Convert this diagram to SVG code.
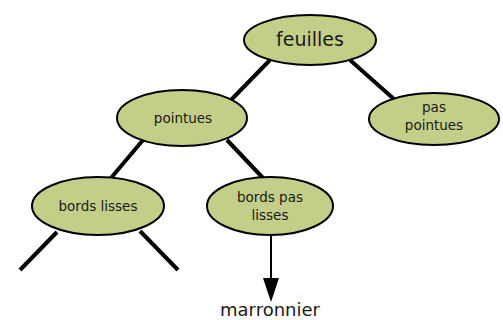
<svg xmlns="http://www.w3.org/2000/svg" width="503" height="320" viewBox="0 0 503 320">
<defs>
<style>
.node ellipse{fill:#c3cf88;stroke:#000;stroke-width:2}
.node text{font-family:Tahoma,"DejaVu Sans",sans-serif;font-size:13.5px;fill:#1a1a1a;text-anchor:middle}
.edge{stroke:#000;stroke-width:4;fill:none}
.arrow{stroke:#000;stroke-width:2;fill:none}
</style>
</defs>
<g id="connectors">
<line class="edge" x1="270" y1="60" x2="231" y2="100"/>
<line class="edge" x1="350" y1="60" x2="395" y2="100"/>
<line class="edge" x1="143" y1="140" x2="111" y2="178"/>
<line class="edge" x1="227" y1="140" x2="263" y2="178"/>
<line class="edge" x1="57" y1="232" x2="20" y2="270"/>
<line class="edge" x1="140" y1="231" x2="178" y2="270"/>
<line class="arrow" x1="271" y1="236" x2="271" y2="280"/>
<polygon points="263,278 279,278 271,302" fill="#000"/>
</g>
<g id="feuilles" class="node">
<ellipse cx="310" cy="40" rx="66" ry="25"/>
<text x="310" y="46" style="font-size:19px">feuilles</text>
</g>
<g id="pointues" class="node">
<ellipse cx="182" cy="118" rx="65" ry="28"/>
<text x="183" y="123">pointues</text>
</g>
<g id="pas-pointues" class="node">
<ellipse cx="434" cy="119" rx="65" ry="26"/>
<text x="434" y="112">pas</text>
<text x="434" y="130">pointues</text>
</g>
<g id="bords-lisses" class="node">
<ellipse cx="98" cy="206" rx="66" ry="29"/>
<text x="98" y="211">bords lisses</text>
</g>
<g id="bords-pas-lisses" class="node">
<ellipse cx="270" cy="206" rx="63" ry="29"/>
<text x="270" y="202">bords pas</text>
<text x="270" y="220">lisses</text>
</g>
<g id="marronnier">
<text x="270" y="316" style="font-family:Tahoma,'DejaVu Sans',sans-serif;font-size:18px;fill:#1a1a1a;text-anchor:middle">marronnier</text>
</g>
</svg>
